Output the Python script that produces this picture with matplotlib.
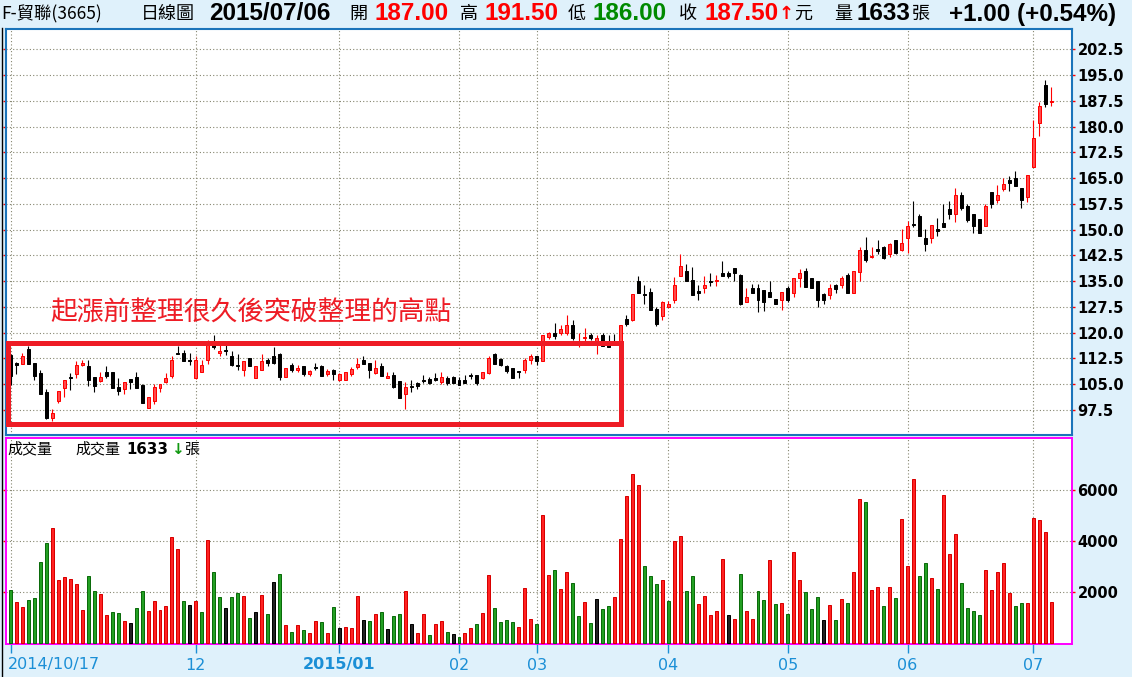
import numpy as np
import matplotlib
matplotlib.use("Agg")
import matplotlib.pyplot as plt
from matplotlib.lines import Line2D
from matplotlib.patches import Rectangle

# ---------------- data ----------------
opens = [113.4, 111.2, 111.0, 115.3, 111.2, 108.3, 102.8, 95.1, 100.0, 104.0,
         107.1, 108.1, 110.5, 110.4, 107.0, 106.0, 108.6, 108.6, 104.1, 103.5,
         106.4, 107.1, 104.9, 98.0, 100.0, 104.0, 105.5, 107.5, 114.2, 114.2,
         112.1, 106.7, 108.4, 112.0, 116.9, 114.0, 114.7, 113.2, 110.5, 109.1,
         112.6, 106.9, 109.1, 112.0, 113.2, 113.9, 107.0, 110.6, 109.1, 110.3,
         108.1, 109.8, 110.4, 108.0, 109.1, 106.1, 106.1, 108.1, 110.0, 112.1,
         111.2, 108.3, 110.3, 106.8, 107.7, 105.8, 102.0, 104.2, 105.3, 106.2,
         106.4, 106.8, 105.6, 106.8, 107.0, 106.3, 106.3, 107.6, 107.7, 106.9,
         108.3, 113.9, 112.2, 110.3, 109.8, 108.6, 109.0, 111.9, 113.2, 111.6,
         118.6, 120.0, 120.0, 119.8, 122.1, 116.8, 118.3, 119.4, 117.5, 119.4,
         117.3, 116.7, 116.8, 124.0, 123.6, 135.1, 131.2, 131.9, 127.0, 124.8,
         127.5, 129.4, 136.5, 138.0, 135.4, 132.0, 133.0, 135.0, 135.1, 137.3,
         137.5, 138.8, 136.8, 128.9, 133.1, 133.1, 132.5, 131.9, 129.8, 129.4,
         133.1, 131.4, 136.0, 138.0, 136.0, 135.1, 131.1, 130.9, 133.8, 133.8,
         136.7, 131.6, 137.7, 144.0, 142.0, 144.1, 144.8, 142.8, 146.9, 144.0,
         147.6, 151.4, 153.9, 147.6, 147.6, 150.3, 152.0, 156.0, 154.5, 160.0,
         156.8, 154.5, 153.0, 151.0, 160.8, 158.6, 161.8, 164.4, 165.1, 162.2,
         159.4, 168.3, 180.9, 192.1, 187.0]
highs = [113.9, 111.4, 114.2, 116.1, 111.2, 109.1, 103.5, 97.8, 103.0, 106.2,
         108.3, 111.7, 112.0, 112.1, 107.0, 108.6, 110.4, 108.6, 106.9, 105.7,
         106.4, 108.6, 105.1, 101.2, 105.1, 105.1, 108.3, 113.2, 116.1, 114.8,
         114.2, 113.2, 112.1, 117.8, 119.4, 116.9, 116.9, 114.6, 113.8, 111.7,
         112.6, 110.3, 113.9, 112.6, 115.8, 114.2, 109.7, 111.2, 110.5, 110.3,
         109.1, 111.1, 110.6, 109.3, 109.3, 108.2, 108.5, 109.9, 112.6, 113.2,
         111.2, 112.1, 111.2, 108.5, 108.5, 105.8, 105.6, 106.3, 105.6, 107.7,
         107.0, 108.3, 108.5, 107.5, 107.5, 107.0, 107.7, 108.3, 107.7, 108.5,
         113.2, 114.2, 112.6, 110.6, 109.8, 108.7, 112.6, 113.9, 113.2, 119.4,
         120.2, 122.7, 122.1, 125.0, 123.6, 120.0, 121.4, 119.8, 119.2, 119.8,
         119.2, 119.7, 122.1, 125.0, 131.1, 136.5, 134.0, 133.0, 127.5, 129.1,
         129.1, 136.1, 142.9, 140.0, 139.0, 134.0, 136.5, 137.3, 136.8, 140.9,
         137.8, 138.8, 137.1, 133.0, 134.1, 134.1, 132.5, 135.1, 129.8, 131.9,
         133.5, 136.0, 138.6, 138.8, 136.0, 135.1, 131.5, 134.3, 134.3, 136.4,
         137.4, 137.9, 144.8, 147.9, 144.8, 146.9, 145.2, 146.0, 146.9, 150.3,
         152.5, 158.3, 154.4, 150.3, 151.3, 153.4, 157.3, 158.3, 162.2, 161.0,
         157.4, 154.5, 153.2, 157.4, 160.8, 163.0, 164.9, 165.6, 167.0, 162.2,
         165.9, 181.9, 187.2, 193.5, 191.5]
lows = [104.8, 108.0, 111.0, 111.0, 106.1, 102.0, 94.9, 94.4, 99.5, 101.4,
        103.3, 106.9, 110.3, 104.6, 102.6, 105.5, 106.9, 104.0, 101.9, 102.0,
        103.5, 104.0, 99.4, 98.0, 99.1, 102.7, 105.2, 106.7, 113.7, 111.6,
        110.5, 106.6, 108.4, 111.0, 115.1, 113.2, 113.6, 110.4, 109.0, 107.5,
        110.3, 106.7, 109.1, 110.3, 111.0, 106.1, 107.0, 108.5, 108.4, 107.5,
        107.5, 109.0, 107.5, 107.5, 106.1, 106.0, 106.1, 107.5, 109.5, 110.9,
        106.9, 108.0, 107.5, 106.8, 104.0, 101.1, 97.8, 102.7, 103.5, 105.4,
        105.1, 106.0, 105.1, 104.9, 105.4, 104.9, 105.4, 106.6, 104.9, 106.6,
        108.0, 111.0, 110.3, 108.3, 106.9, 106.9, 108.2, 110.9, 110.5, 111.6,
        118.1, 118.1, 119.2, 119.2, 118.0, 115.9, 116.5, 118.0, 113.9, 116.0,
        115.9, 116.3, 116.5, 121.9, 123.4, 131.4, 128.2, 126.7, 121.9, 123.8,
        127.5, 128.7, 136.4, 134.9, 130.9, 129.6, 131.5, 133.7, 133.7, 136.4,
        135.8, 135.1, 128.0, 128.9, 131.5, 126.0, 126.3, 130.4, 128.2, 126.7,
        128.9, 130.3, 133.2, 133.2, 133.0, 127.4, 128.2, 129.7, 131.6, 132.9,
        131.4, 131.6, 135.0, 140.6, 141.8, 142.8, 141.3, 142.1, 142.8, 143.7,
        143.2, 150.8, 148.2, 143.7, 146.2, 148.2, 150.8, 153.0, 152.3, 155.7,
        152.3, 148.9, 148.9, 151.0, 156.4, 157.8, 161.3, 161.3, 162.8, 156.4,
        158.1, 168.3, 177.2, 185.8, 186.0]
closes = [107.5, 110.5, 113.2, 111.0, 107.5, 102.0, 95.1, 96.6, 103.0, 106.2,
          106.9, 110.6, 111.2, 106.1, 104.6, 107.1, 107.4, 104.0, 102.9, 105.7,
          105.7, 104.0, 99.6, 101.2, 104.1, 105.1, 106.8, 112.0, 113.7, 111.6,
          111.6, 112.0, 110.6, 116.9, 115.7, 114.6, 114.6, 110.5, 110.3, 111.7,
          110.3, 110.3, 111.7, 111.1, 111.1, 107.0, 109.7, 109.0, 109.8, 108.0,
          108.7, 109.6, 107.5, 108.8, 108.1, 108.1, 108.5, 109.3, 111.0, 111.0,
          109.0, 109.8, 107.5, 107.5, 104.1, 101.1, 104.1, 104.1, 104.6, 106.0,
          105.4, 106.1, 107.0, 105.4, 105.4, 104.9, 105.4, 107.4, 105.4, 108.5,
          112.6, 111.0, 110.5, 108.8, 106.9, 108.4, 112.1, 113.2, 111.6, 119.4,
          120.0, 119.0, 121.0, 122.1, 118.3, 117.2, 118.8, 118.3, 118.3, 116.2,
          115.9, 116.5, 122.1, 122.4, 131.1, 131.5, 131.0, 126.7, 122.4, 128.9,
          128.2, 134.0, 139.4, 135.1, 130.9, 131.4, 134.0, 134.8, 135.3, 136.5,
          136.5, 137.3, 128.2, 130.4, 131.5, 129.6, 128.9, 130.4, 128.2, 131.9,
          129.6, 136.0, 137.3, 133.2, 133.0, 129.6, 129.6, 133.0, 132.6, 135.8,
          131.6, 137.9, 144.0, 141.1, 142.2, 143.9, 141.8, 145.7, 143.2, 146.2,
          151.0, 151.2, 148.2, 145.7, 151.3, 149.6, 150.8, 154.5, 160.0, 156.4,
          152.8, 151.0, 148.9, 156.8, 157.3, 160.0, 163.4, 163.6, 162.8, 158.6,
          165.9, 176.8, 186.0, 186.5, 187.5]
volumes = [2093, 1625, 1430, 1703, 1781, 3185, 3926, 4511, 2483, 2600,
           2522, 2327, 1313, 2639, 2054, 1937, 1118, 1235, 1196, 884,
           806, 1391, 2054, 1274, 1664, 1313, 1469, 4160, 3692, 1664,
           1508, 1664, 1235, 4043, 2795, 1820, 1391, 1820, 1976, 1859,
           1001, 1235, 1898, 1157, 2405, 2717, 728, 455, 728, 533,
           416, 884, 845, 416, 1430, 611, 650, 611, 1859, 923,
           884, 1157, 1235, 572, 1079, 1157, 2054, 767, 416, 1157,
           338, 767, 884, 455, 377, 260, 416, 611, 767, 1196,
           2678, 1391, 845, 923, 845, 650, 2171, 962, 767, 5018,
           2678, 2873, 2132, 2795, 2366, 1079, 1625, 806, 1742, 1352,
           1469, 1820, 4082, 5759, 6617, 6188, 3029, 2639, 2327, 2483,
           1664, 4004, 4199, 2054, 2639, 1547, 1859, 1118, 1274, 3302,
           1118, 962, 2717, 1274, 962, 2054, 1703, 3263, 1547, 1586,
           1157, 3575, 2483, 2015, 1352, 1820, 923, 1508, 923, 1742,
           1586, 2795, 5642, 5525, 2093, 2210, 1469, 2210, 1781, 4862,
           3029, 6422, 2639, 3146, 2561, 2132, 5798, 3497, 4277, 2366,
           1391, 1274, 1118, 2873, 2093, 2795, 3146, 1976, 1469, 1586,
           1586, 4901, 4823, 4355, 1633]
# R = up vs previous close, G = down, K = unchanged
volume_moves = ("GRRGGGGRRR" "RRRGGRRGGR" "KGGRRRRRRG" "KRGRGGKGGR" "GKRGKGRGRG"
                "RRGRGKRRRK" "GRGKGGRKRR" "GRRGKGRRGR" "RGGGGRRRGR" "RGRRGGRGKG"
                "GRRRRRGGGR" "GRRGGRRRRR" "KRGRRGGRGR" "GRRGGGKRGR" "GRRGRRGRGR"
                "RRGGRGRRRG" "GGGRRRRRGG" "RRRRR")
month_index = [0, 31, 55, 75, 88, 110, 130, 150, 171]
month_labels = ["2014/10/17", "12", "2015/01", "02", "03", "04", "05", "06", "07"]
price_ticks = [97.5, 105.0, 112.5, 120.0, 127.5, 135.0, 142.5, 150.0, 157.5,
               165.0, 172.5, 180.0, 187.5, 195.0, 202.5]
volume_ticks = [2000, 4000, 6000]

# ---------------- styling ----------------
W, H = 1132, 677
BG = "#DFF1FB"
RED = "#FF0000"
RED_FACE = "#FF4A4A"
BOX = "#EE1C25"
GRID = "#85856F"
BLUE = "#1A74BA"
DATEBLUE = "#1B8FD6"
CJK = ["Noto Sans CJK TC", "DejaVu Sans"]
NUMF = ["Liberation Sans", "DejaVu Sans"]
plt.rcParams["font.family"] = ["DejaVu Sans"]

fig = plt.figure(figsize=(W / 100, H / 100), dpi=100, facecolor=BG)


def fx(x):
    return x / W


def fy(y):
    return 1 - y / H


X0, DX = 10.5, 5.98
XL, XR = (6 - X0) / DX, (1072 - X0) / DX
x = np.arange(len(closes))
o, h, l, c = map(np.asarray, (opens, highs, lows, closes))

# ---------------- price panel ----------------
ax_p = fig.add_axes([fx(6), fy(435), (1072 - 6) / W, (435 - 29.3) / H])
ax_p.set_facecolor("white")
ax_p.set_xlim(XL, XR)
ax_p.set_ylim(90.2, 208.3)
for s in ax_p.spines.values():
    s.set_color(BLUE)
    s.set_linewidth(1.5)
ax_p.set_xticks(month_index)
ax_p.tick_params(axis="x", length=0, labelbottom=False)
ax_p.set_yticks(price_ticks)
ax_p.set_yticklabels([f"{v:.1f}" for v in price_ticks])
ax_p.tick_params(axis="y", left=True, right=True, labelleft=False, labelright=True,
                 length=2, width=1, color=RED, pad=2, labelsize=10.5)
for t in ax_p.get_yticklabels():
    t.set_fontweight("bold")
ax_p.grid(True, linestyle=(0, (1, 2)), color=GRID, linewidth=0.8)
ax_p.set_axisbelow(True)

up = c >= o
edge = np.where(up, RED, "black")
face = np.where(up, RED_FACE, "black")
ax_p.vlines(x, l, h, colors=edge, linewidth=0.8, zorder=2)
ax_p.bar(x, np.maximum(np.abs(c - o), 0.3), bottom=np.minimum(o, c), width=0.5,
         color=face, edgecolor=edge, linewidth=0.72, zorder=3)

ax_p.add_patch(Rectangle((-0.5, 93.3), 102.67, 23.8, fill=False, edgecolor=BOX,
                         linewidth=3.6, zorder=6, clip_on=False))
fig.text(fx(50), fy(313), "起漲前整理很久後突破整理的高點", color=BOX, fontsize=19.3,
         ha="left", va="center", family=CJK)

# ---------------- volume panel ----------------
ax_v = fig.add_axes([fx(6), fy(644), (1072 - 6) / W, (644 - 438.3) / H])
ax_v.set_facecolor("white")
ax_v.set_xlim(XL, XR)
ax_v.set_ylim(-20, 8008)
for s in ax_v.spines.values():
    s.set_color("#FF00FF")
    s.set_linewidth(1.4)
ax_v.set_xticks(month_index)
ax_v.tick_params(axis="x", length=6.5, width=1, color=DATEBLUE, labelbottom=False)
ax_v.set_yticks(volume_ticks)
ax_v.set_yticklabels([str(v) for v in volume_ticks])
ax_v.tick_params(axis="y", left=True, right=True, labelleft=False, labelright=True,
                 length=2, width=1, color=RED, pad=2, labelsize=10.5)
for t in ax_v.get_yticklabels():
    t.set_fontweight("bold")
ax_v.grid(True, linestyle=(0, (1, 2)), color=GRID, linewidth=0.8)
ax_v.set_axisbelow(True)

vface = {"R": "#FF2222", "G": "#23A023", "K": "#222222"}
vedge = {"R": "#D80000", "G": "#0B6B0B", "K": "#000000"}
ax_v.bar(x, volumes, width=0.5, color=[vface[m] for m in volume_moves],
         edgecolor=[vedge[m] for m in volume_moves], linewidth=0.72, zorder=3)

# date labels
for i, lab in zip(month_index, month_labels):
    xp = X0 + DX * i
    bold = "bold" if lab == "2015/01" else "normal"
    if i == month_index[0]:
        fig.text(fx(8), fy(665), lab, ha="left", va="center", color=DATEBLUE,
                 fontsize=11.5, fontweight=bold)
    else:
        fig.text(fx(xp), fy(665), lab, ha="center", va="center", color=DATEBLUE,
                 fontsize=11.5, fontweight=bold)

# volume panel title
fig.text(fx(7), fy(449.5), "成交量", fontsize=10.8, family=CJK, va="center")
fig.text(fx(75), fy(449.5), "成交量", fontsize=10.8, family=CJK, va="center")
fig.text(fx(126), fy(449.5), f"{volumes[-1]}", fontsize=10.8, fontweight="bold",
         va="center")
fig.text(fx(171), fy(449.5), "↓", fontsize=11, fontweight="bold", color="#119911",
         va="center")
fig.text(fx(184), fy(449.5), "張", fontsize=10.8, family=CJK, va="center")

# header
HY = fy(14)
header = [
    (1, "F-貿聯(3665)", "black", CJK, "normal", 12.5),
    (141, "日線圖", "black", CJK, "normal", 13),
    (209, "2015/07/06", "black", NUMF, "bold", 17.5),
    (349, "開", "black", CJK, "normal", 13),
    (375, f"{opens[-1]:.2f}", RED, NUMF, "bold", 17.5),
    (460, "高", "black", CJK, "normal", 13),
    (485, f"{highs[-1]:.2f}", RED, NUMF, "bold", 17.5),
    (568, "低", "black", CJK, "normal", 13),
    (593, f"{lows[-1]:.2f}", "#008A00", NUMF, "bold", 17.5),
    (679, "收", "black", CJK, "normal", 13),
    (704, f"{closes[-1]:.2f}", RED, NUMF, "bold", 17.5),
    (779, "↑", RED, ["DejaVu Sans"], "bold", 13),
    (794, "元", "black", CJK, "normal", 13),
    (834, "量", "black", CJK, "normal", 13),
    (856, f"{volumes[-1]}", "black", NUMF, "bold", 17.5),
    (912, "張", "black", CJK, "normal", 13),
    (949, "+1.00 (+0.54%)", "black", NUMF, "bold", 17.5),
]
for xp, txt, col, fam, wt, fs in header:
    fig.text(fx(xp), HY, txt, color=col, family=fam, fontweight=wt, fontsize=fs,
             ha="left", va="center")

fig.add_artist(Line2D([fx(1.7), fx(1.7)], [fy(27.5), fy(677)], color="black",
                      linewidth=1.0))

fig.savefig("out.png", dpi=100, facecolor=BG)
